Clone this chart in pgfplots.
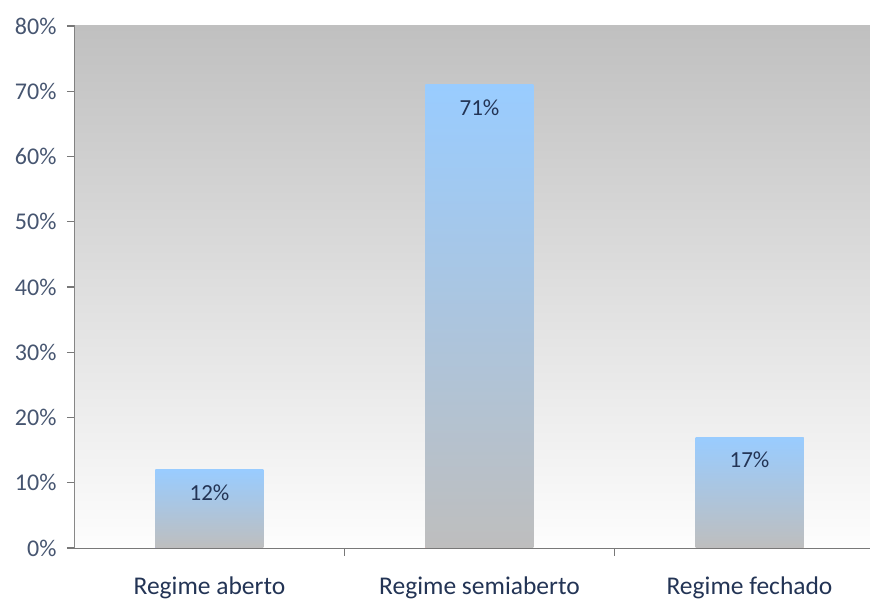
\documentclass[border=0pt]{standalone}
\usepackage{pgfplots}
\pgfplotsset{compat=1.18}
\usepackage{fontspec}
\setmainfont{Carlito}
\definecolor{tickc}{RGB}{70,85,112}
\definecolor{labc}{RGB}{35,52,85}
\definecolor{axc}{RGB}{120,120,120}
\definecolor{bgtop}{RGB}{192,192,192}
\definecolor{bgbot}{RGB}{253,253,253}
\definecolor{bartop}{RGB}{153,204,255}
\definecolor{barbot}{RGB}{190,190,190}
\begin{document}
\begin{tikzpicture}
\begin{axis}[
  at={(0,0)}, anchor=south west,
  scale only axis,
  width=836.5pt, height=522pt,
  xmin=-0.498, xmax=2.6,
  ymin=0, ymax=80,
  axis lines*=left,
  axis line style={axc, line width=1.4pt, -},
  ytick={0,10,...,80},
  yticklabel={\pgfmathprintnumber{\tick}\%},
  yticklabel style={font=\fontsize{24}{27}\selectfont, text=tickc, xshift=-7pt},
  /pgf/number format/assume math mode=true,
  xtick={0.5,1.5},
  xticklabels={},
  extra x ticks={0,1,2},
  extra x tick labels={Regime aberto, Regime semiaberto, Regime fechado},
  extra x tick style={major tick length=0pt, xticklabel style={font=\fontsize{25.5}{28}\selectfont, text=labc, yshift=-25pt}},
  tick align=outside,
  major tick length=8pt,
  tick style={axc, line width=1.2pt},
  ybar, bar width=108pt, bar shift=0pt,
  clip=false,
  every axis plot/.append style={draw=none, top color=bartop, bottom color=barbot,
    nodes near coords={\pgfmathprintnumber{\pgfplotspointmeta}\%},
    nodes near coords style={font=\fontsize{23}{26}\selectfont, text=labc, anchor=center, yshift=-23pt}},
]
\fill[top color=bgtop, bottom color=bgbot] (rel axis cs:0,0) rectangle (rel axis cs:1,1);
\addplot coordinates {(0,12)};
\addplot coordinates {(1,71)};
\addplot coordinates {(2,17)};
\end{axis}
\pgfresetboundingbox
\path[use as bounding box] (-75pt,-51pt) rectangle (795pt,548pt);
\end{tikzpicture}
\end{document}
